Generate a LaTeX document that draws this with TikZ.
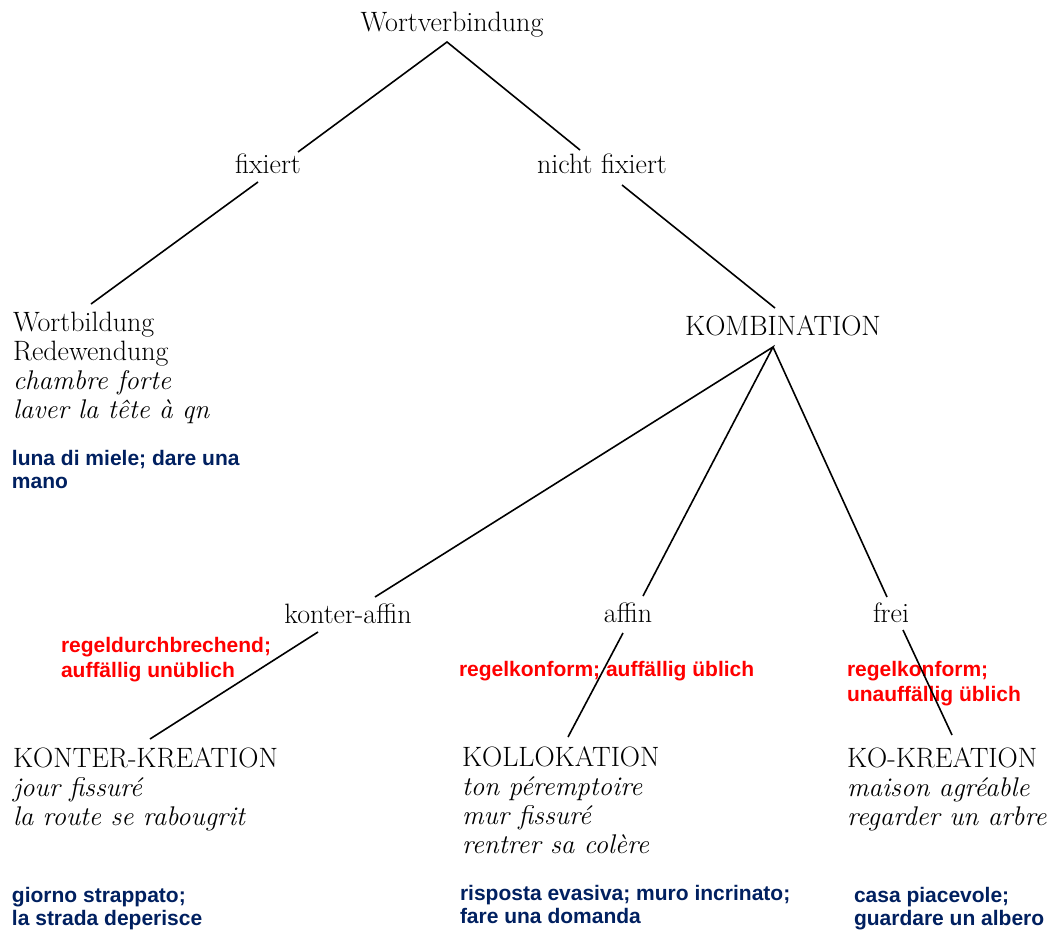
\documentclass[tikz,border=0pt]{standalone}
\usepackage{fontspec}
\newfontfamily\labelsans{Liberation Sans}
\definecolor{navy}{HTML}{002060}
\definecolor{rulered}{HTML}{FF0000}
\newcommand{\itl}[1]{{\fontsize{27}{28.7}\selectfont\itshape #1}}
\begin{document}
\begin{tikzpicture}[x=1pt,y=-1pt,
  every node/.style={inner sep=0pt,outer sep=0pt},
  term/.style={font=\fontsize{28}{28.7}\selectfont,anchor=base},
  block/.style={font=\fontsize{28}{28.7}\selectfont,anchor=base west,align=left},
  blue/.style={font=\labelsans\bfseries\fontsize{21}{23}\selectfont,text=navy,anchor=base west,align=left},
  red/.style={font=\labelsans\bfseries\fontsize{21}{24.5}\selectfont,text=rulered,anchor=base west,align=left},
  edge/.style={line width=1.6pt}]
\useasboundingbox (0,0) rectangle (1055,931);
\fill[white] (0,0) rectangle (1055,931);

% terms
\node[term] (wv) at (452,32) {Wortverbindung};
\node[term] (fix) at (268,173) {fixiert};
\node[term] (nfix) at (602,173) {nicht fixiert};
\node[term] (komb) at (783,335) {KOMBINATION};
\node[term] (ka) at (348,623) {konter-affin};
\node[term] (af) at (628,622) {affin};
\node[term] (fr) at (891,622) {frei};

% left block (anchored at baseline of last line)
\node[block] (wb) at (13,418) {Wortbildung\\Redewendung\\\itl{chambre forte}\\\itl{laver la tête à qn}};
\node[blue] (bl1) at (12,488) {luna di miele; dare una\\mano};

% lower blocks
\node[block] (kk) at (13,825) {KONTER-KREATION\\\itl{jour fissuré}\\\itl{la route se rabougrit}};
\node[block] (ko) at (462,853) {KOLLOKATION\\\itl{ton péremptoire}\\\itl{mur fissuré}\\\itl{rentrer sa colère}};
\node[block] (kr) at (847,825) {KO-KREATION\\\itl{maison agréable}\\\itl{regarder un arbre}};

% red annotations
\node[red] (r1) at (61,677) {regeldurchbrechend;\\auffällig unüblich};
\node[red] (r2) at (459,676) {regelkonform; auffällig üblich};
\node[red] (r3) at (847,701) {regelkonform;\\unauffällig üblich};

% blue translations
\node[blue] (b1) at (12,925) {giorno strappato;\\la strada deperisce};
\node[blue] (b2) at (460,923) {risposta evasiva; muro incrinato;\\fare una domanda};
\node[blue] (b3) at (854,925) {casa piacevole;\\guardare un albero};

% connector ends
\coordinate (wvA) at (447,42);
\coordinate (fixT) at (298,152);
\coordinate (nfixT) at (580,150);
\coordinate (fixB) at (258,182);
\coordinate (wbT) at (91,304);
\coordinate (nfixB) at (622,185);
\coordinate (kombT) at (775,308);
\coordinate (kombA) at (773,347);
\coordinate (kaT) at (375,597);
\coordinate (afT) at (643,596);
\coordinate (frT) at (887,597);
\coordinate (kaB) at (318,632);
\coordinate (kkT) at (150,739);
\coordinate (afB) at (623,633);
\coordinate (koT) at (568,737);
\coordinate (frB) at (903,630);
\coordinate (krT) at (952,735);

\draw[edge] (fixT) -- (wvA) -- (nfixT);
\draw[edge] (fixB) -- (wbT);
\draw[edge] (nfixB) -- (kombT);
\draw[edge] (kaT) -- (kombA) -- (afT);
\draw[edge] (kombA) -- (frT);
\draw[edge] (kaB) -- (kkT);
\draw[edge] (afB) -- (koT);
\draw[edge] (frB) -- (krT);
\end{tikzpicture}
\end{document}
